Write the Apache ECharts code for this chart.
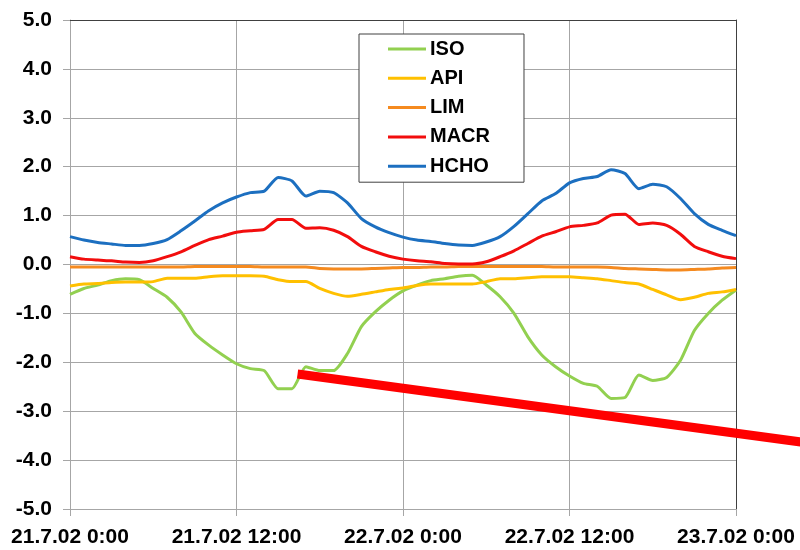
<!DOCTYPE html>
<html>
<head>
<meta charset="utf-8">
<script src="https://cdn.jsdelivr.net/npm/echarts@6/dist/echarts.min.js"></script>
<style>html,body{margin:0;padding:0;background:#fff;}#c{width:800px;height:550px;}</style>
</head>
<body>
<div id="c"></div>
<script>
// x categories: hours since 21.7.02 0:00
const tickLabels = ['21.7.02 0:00', '21.7.02 12:00', '22.7.02 0:00', '22.7.02 12:00', '23.7.02 0:00'];
const seriesNames = ['ISO', 'API', 'LIM', 'MACR', 'HCHO'];

const ISO = [-0.61,-0.49,-0.42,-0.33,-0.29,-0.31,-0.49,-0.67,-0.97,-1.41,-1.65,-1.85,-2.03,
  -2.13,-2.17,-2.54,-2.54,-2.09,-2.17,-2.17,-1.82,-1.27,-0.97,-0.73,-0.54,
  -0.42,-0.33,-0.29,-0.24,-0.22,-0.42,-0.66,-1.00,-1.48,-1.85,-2.09,-2.28,
  -2.43,-2.49,-2.74,-2.72,-2.26,-2.37,-2.31,-1.96,-1.35,-1.00,-0.73,-0.52];
const API = [-0.44,-0.40,-0.39,-0.37,-0.36,-0.36,-0.35,-0.28,-0.28,-0.28,-0.25,-0.23,-0.23,
  -0.23,-0.24,-0.31,-0.35,-0.35,-0.49,-0.59,-0.65,-0.61,-0.56,-0.51,-0.48,
  -0.43,-0.40,-0.40,-0.40,-0.40,-0.35,-0.29,-0.29,-0.27,-0.25,-0.25,-0.25,
  -0.27,-0.29,-0.33,-0.37,-0.40,-0.51,-0.62,-0.72,-0.67,-0.59,-0.56,-0.51];
const LIM = [-0.05,-0.05,-0.05,-0.05,-0.05,-0.05,-0.05,-0.05,-0.05,-0.04,-0.04,-0.04,-0.04,
  -0.04,-0.05,-0.05,-0.05,-0.05,-0.08,-0.09,-0.09,-0.09,-0.08,-0.07,-0.06,
  -0.06,-0.05,-0.05,-0.04,-0.04,-0.04,-0.04,-0.04,-0.04,-0.04,-0.05,-0.05,
  -0.05,-0.05,-0.06,-0.08,-0.09,-0.10,-0.11,-0.11,-0.10,-0.09,-0.07,-0.06];
const MACR = [0.16,0.11,0.09,0.075,0.05,0.04,0.075,0.16,0.26,0.39,0.51,0.58,0.66,
  0.69,0.72,0.92,0.92,0.74,0.75,0.70,0.57,0.37,0.26,0.17,0.11,
  0.075,0.055,0.02,0.01,0.01,0.055,0.16,0.28,0.43,0.58,0.67,0.77,
  0.80,0.85,1.01,1.03,0.82,0.85,0.80,0.62,0.37,0.26,0.17,0.12];
const HCHO = [0.57,0.50,0.45,0.42,0.39,0.39,0.43,0.51,0.69,0.89,1.10,1.26,1.38,
  1.47,1.50,1.78,1.71,1.40,1.50,1.47,1.26,0.94,0.77,0.65,0.56,
  0.50,0.47,0.43,0.40,0.39,0.46,0.57,0.78,1.04,1.30,1.45,1.67,
  1.76,1.80,1.94,1.86,1.55,1.64,1.59,1.35,1.04,0.82,0.70,0.59];
// annotation pointer: start and a point on its path (hours, value); it runs on past the chart's right edge
const pointer = [[16.4, -2.24], [48, -3.45]];

const colors = ['#92D050', '#FFC000', '#F58A1F', '#F20D0D', '#1C6FC0'];
const valuesList = [ISO, API, LIM, MACR, HCHO];
const pairs = arr => arr.map((v, i) => [i, v]);

const font = 'Liberation Sans, Arial, sans-serif';
const gridGray = '#A6A6A6';
const chart = echarts.init(document.getElementById('c'), null, {renderer: 'canvas'});

const series = seriesNames.map((n, k) => ({
  name: n, type: 'line', data: pairs(valuesList[k]), showSymbol: false, symbol: 'none',
  smooth: 0.2, lineStyle: {color: colors[k], width: 3}, itemStyle: {color: colors[k]},
  xAxisIndex: 0, yAxisIndex: 0, z: 3 + k
}));

chart.setOption({
  animation: false,
  backgroundColor: '#fff',
  color: colors,
  grid: {left: 70, right: 64, top: 20, bottom: 41, containLabel: false},
  legend: {
    data: seriesNames, orient: 'vertical', left: 359, top: 34,
    padding: [5, 34, 6, 29], itemGap: 9.3, itemWidth: 38, itemHeight: 3, icon: 'rect',
    backgroundColor: '#fff', borderColor: '#404040', borderWidth: 1, borderRadius: 0,
    textStyle: {fontFamily: font, fontWeight: 'bold', fontSize: 20, color: '#000', padding: [0, 0, 0, -1]},
    selectedMode: false, z: 30
  },
  xAxis: [{
    type: 'value', min: 0, max: 48, interval: 12,
    axisLine: {show: true, onZero: false, lineStyle: {color: gridGray, width: 1}},
    axisTick: {show: true, length: 7, lineStyle: {color: gridGray}},
    splitLine: {show: true, lineStyle: {color: gridGray, width: 1}},
    axisLabel: {fontFamily: font, fontWeight: 'bold', fontSize: 21, color: '#000', margin: 18,
      formatter: v => tickLabels[Math.round(v / 12)]}
  }, {
    type: 'value', min: 0, max: 48, position: 'top',
    axisLine: {show: true, onZero: false, lineStyle: {color: '#404040', width: 1}},
    axisTick: {show: false}, axisLabel: {show: false}, splitLine: {show: false}
  }],
  yAxis: [{
    type: 'value', min: -5, max: 5, interval: 1,
    axisLine: {show: true, onZero: false, lineStyle: {color: gridGray, width: 1}},
    axisTick: {show: true, length: 7, lineStyle: {color: gridGray}},
    splitLine: {show: true, lineStyle: {color: gridGray, width: 1}},
    axisLabel: {fontFamily: font, fontWeight: 'bold', fontSize: 21, color: '#000', margin: 18,
      formatter: v => v.toFixed(1)}
  }, {
    type: 'value', min: -5, max: 5, position: 'right',
    axisLine: {show: true, onZero: false, lineStyle: {color: '#404040', width: 1}},
    axisTick: {show: false}, axisLabel: {show: false}, splitLine: {show: false}
  }],
  series: series
});

// draw the pointer from data coordinates, extended to the right edge of the canvas
const p0 = chart.convertToPixel({gridIndex: 0}, pointer[0]);
const p1 = chart.convertToPixel({gridIndex: 0}, pointer[1]);
const W = chart.getWidth();
const slope = (p1[1] - p0[1]) / (p1[0] - p0[0]);
const yEnd = p0[1] + slope * (W - p0[0]);
chart.setOption({
  graphic: [{
    type: 'line', silent: true, z: 100,
    shape: {x1: p0[0], y1: p0[1], x2: W + 2, y2: yEnd + 2 * slope},
    style: {stroke: '#FF0000', lineWidth: 9, lineCap: 'butt'}
  }]
});
</script>
</body>
</html>
